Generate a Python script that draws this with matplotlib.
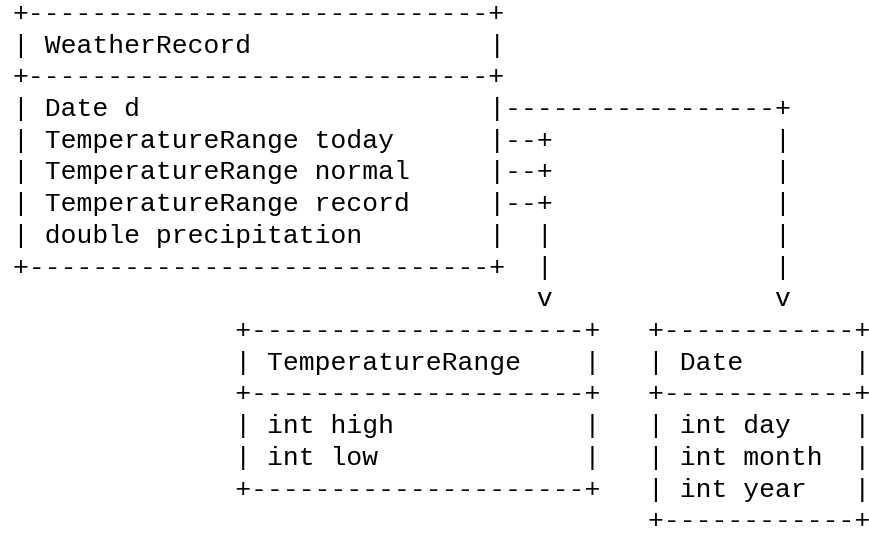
"""ASCII class diagram: WeatherRecord, TemperatureRange, Date."""

import matplotlib.pyplot as plt

# Diagram text, one entry per row
rows = [
    "+-----------------------------+",
    "| WeatherRecord               |",
    "+-----------------------------+",
    "| Date d                      |-----------------+",
    "| TemperatureRange today      |--+              |",
    "| TemperatureRange normal     |--+              |",
    "| TemperatureRange record     |--+              |",
    "| double precipitation        |  |              |",
    "+-----------------------------+  |              |",
    "                                 v              v",
    "              +---------------------+   +------------+",
    "              | TemperatureRange    |   | Date       |",
    "              +---------------------+   +------------+",
    "              | int high            |   | int day    |",
    "              | int low             |   | int month  |",
    "              +---------------------+   | int year   |",
    "                                        +------------+",
]

W, H = 869, 533
left = 13.0      # left edge of first column (px)
top = 14.0       # centre of first row (px)
row_step = 31.7  # px between rows
char_w = 15.84   # monospace advance (px)

fig = plt.figure(figsize=(W / 100, H / 100), dpi=100)
ax = fig.add_axes([0, 0, 1, 1])
ax.set_xlim(0, W)
ax.set_ylim(H, 0)
ax.axis("off")

font_size = char_w / 0.6 * 72 / 100

for i, line in enumerate(rows):
    ax.text(
        left,
        top + i * row_step,
        line,
        family=["Liberation Mono", "DejaVu Sans Mono"],
        fontsize=font_size,
        ha="left",
        va="center",
        color="black",
    )

fig.savefig("out.png", dpi=100, facecolor="white")
